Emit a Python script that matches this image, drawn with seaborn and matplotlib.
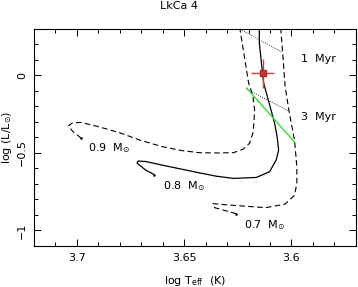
import numpy as np
import pandas as pd
import matplotlib
matplotlib.use('Agg')
import matplotlib.pyplot as plt
import seaborn as sns
from matplotlib.ticker import MultipleLocator

# evolutionary tracks (log Teff, log L/Lsun)
t09 = [3.698, 3.702, 3.704, 3.702, 3.698, 3.690, 3.680, 3.670, 3.660, 3.651, 3.643, 3.635, 3.627,
       3.6226, 3.6195, 3.618, 3.6175, 3.6172, 3.618, 3.620, 3.622, 3.624]
l09 = [-0.405, -0.360, -0.325, -0.305, -0.303, -0.330, -0.370, -0.420, -0.460, -0.485, -0.498, -0.500, -0.498,
       -0.476, -0.437, -0.372, -0.307, -0.221, -0.130, -0.048, 0.126, 0.299]

t08 = [3.664, 3.668, 3.672, 3.6715, 3.668, 3.658, 3.643, 3.635, 3.627, 3.6164, 3.6102, 3.6071,
       3.6060, 3.6067, 3.6079, 3.610, 3.613, 3.614, 3.615, 3.615]
l08 = [-0.639, -0.610, -0.565, -0.552, -0.555, -0.585, -0.628, -0.650, -0.664, -0.658, -0.621, -0.545,
       -0.481, -0.394, -0.307, -0.199, -0.048, 0.082, 0.212, 0.303]

t07 = [3.6257, 3.6358, 3.6366, 3.630, 3.620, 3.612, 3.603, 3.5986, 3.5975, 3.5975, 3.5986, 3.601,
       3.603, 3.604, 3.605]
l07 = [-0.892, -0.853, -0.827, -0.835, -0.845, -0.853, -0.830, -0.773, -0.697, -0.589, -0.416, -0.242,
       -0.069, 0.126, 0.303]

# isochrones
iso1_t = [3.624, 3.6047]
iso1_l = [0.299, 0.152]
iso3_t = [3.621, 3.601]
iso3_l = [-0.087, -0.232]

# green line
green_t = [3.621, 3.5984]
green_l = [-0.080, -0.433]

# LkCa 4
star_t, star_l = 3.6135, 0.013
star_terr, star_lerr = 0.0052, 0.095

sns.set_style('ticks')
plt.rcParams['font.family'] = ['DejaVu Sans']
plt.rcParams['text.color'] = 'black'
plt.rcParams['axes.labelcolor'] = 'black'
plt.rcParams['xtick.color'] = 'black'
plt.rcParams['ytick.color'] = 'black'
plt.rcParams['axes.edgecolor'] = 'black'

fig = plt.figure(figsize=(3.58, 2.87), dpi=100)
ax = fig.add_axes([0.095, 0.143, 0.899, 0.756])

dash = (0, (5, 3))
kw = dict(sort=False, estimator=None, color='black', ax=ax)
sns.lineplot(x=t09, y=l09, lw=0.8, linestyle=dash, **kw)
sns.lineplot(x=t08, y=l08, lw=0.9, **kw)
sns.lineplot(x=t07, y=l07, lw=0.8, linestyle=dash, **kw)
sns.lineplot(x=iso1_t, y=iso1_l, lw=0.6, linestyle=':', **kw)
sns.lineplot(x=iso3_t, y=iso3_l, lw=0.6, linestyle=':', **kw)
sns.lineplot(x=green_t, y=green_l, sort=False, estimator=None, color='#33dd33', lw=1.0, ax=ax)
sns.scatterplot(x=[t09[0], t08[0], t07[0]], y=[l09[0], l08[0], l07[0]], color='black', s=4, ax=ax)

ax.errorbar(star_t, star_l, xerr=star_terr, yerr=star_lerr, fmt='s', color='#ee3333',
            ms=5, mec='#993333', mfc='#cc3333', elinewidth=1.0, capsize=0, zorder=5)

fs = 8
ax.text(3.5957, 0.108, '1  Myr', fontsize=fs, va='center')
ax.text(3.5957, -0.268, '3  Myr', fontsize=fs, va='center')
ax.text(3.695, -0.47, r'0.9  M$_{\odot}$', fontsize=fs, va='center')
ax.text(3.660, -0.712, r'0.8  M$_{\odot}$', fontsize=fs, va='center')
ax.text(3.622, -0.967, r'0.7  M$_{\odot}$', fontsize=fs, va='center')

ax.set_xlim(3.72, 3.57)
ax.set_ylim(-1.1, 0.3)
ax.xaxis.set_minor_locator(MultipleLocator(0.01))
ax.yaxis.set_minor_locator(MultipleLocator(0.1))
ax.set_xticks([3.7, 3.65, 3.6])
ax.set_xticklabels(['3.7', '3.65', '3.6'])
ax.set_yticks([0, -0.5, -1])
ax.set_yticklabels(['0', '\u22120.5', '\u22121'], rotation=90, va='center')
ax.tick_params(which='both', direction='in', top=True, right=True, labelsize=fs, width=0.7)
ax.tick_params(which='major', length=5, pad=5)
ax.tick_params(which='minor', length=3)
for s in ax.spines.values():
    s.set_linewidth(0.8)

ax.set_xlabel(r'log T$_{\rm eff}$  (K)', fontsize=fs, labelpad=8)
ax.set_ylabel(r'log (L/L$_{\odot}$)', fontsize=fs, labelpad=2)
fig.suptitle('LkCa 4', fontsize=fs, y=0.995)

fig.savefig('out.png', dpi=100)
